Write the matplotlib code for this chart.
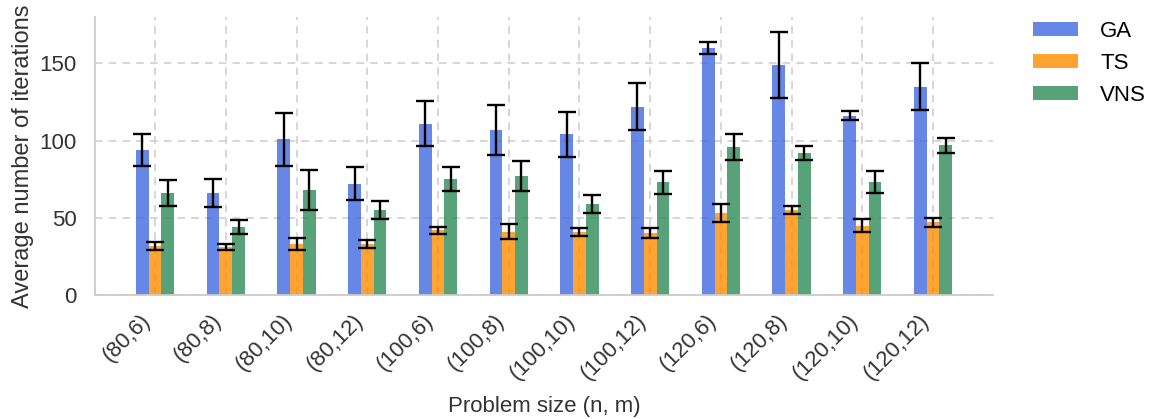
import matplotlib
matplotlib.use("Agg")
import matplotlib.pyplot as plt
import numpy as np

categories = ["(80,6)", "(80,8)", "(80,10)", "(80,12)", "(100,6)", "(100,8)",
              "(100,10)", "(100,12)", "(120,6)", "(120,8)", "(120,10)", "(120,12)"]
ga_mean = [94, 66, 101, 72, 111, 107, 104, 122, 160, 149, 116, 135]
ga_err = [10.4, 9, 17.2, 10.7, 14.4, 16.2, 14.7, 15.4, 3.8, 21.3, 2.9, 15.4]
ts_mean = [32, 31, 33, 33, 42, 41, 41, 40, 53, 55, 45, 47]
ts_err = [2.6, 2, 3.6, 2.5, 2.3, 4.7, 2.6, 3.2, 5.9, 2.8, 4.2, 3.2]
vns_mean = [66, 44, 68, 55, 75, 77, 59, 73, 96, 92, 73, 97]
vns_err = [8.3, 4.3, 12.9, 5.7, 7.9, 9.6, 5.8, 7.6, 8.3, 4.3, 7.1, 4.7]

plt.rcParams['font.family'] = ['Liberation Sans', 'DejaVu Sans']

fig = plt.figure(figsize=(11.5, 4.19), dpi=100)
ax = fig.add_axes([0.0826, 0.296, 0.781, 0.663])

x = np.arange(len(categories))
w = 0.18
colors = ["royalblue", "darkorange", "seagreen"]
series = [("GA", ga_mean, ga_err), ("TS", ts_mean, ts_err), ("VNS", vns_mean, vns_err)]
for i, (name, m, e) in enumerate(series):
    ax.bar(x + (i - 1) * w, m, w, color=colors[i], alpha=0.8, label=name, zorder=2,
           yerr=e, capsize=6.5, error_kw=dict(elinewidth=1.7, capthick=1.7, ecolor="black", zorder=3))

ax.set_xticks(x)
ax.set_xticklabels(categories, rotation=45, ha="right", fontsize=16, color="#333333")
ax.set_xlim(-0.85, 11.85)
ax.set_ylim(0, 180)
ax.set_yticks([0, 50, 100, 150])
ax.tick_params(axis='y', labelsize=16, length=0, pad=13, labelcolor="#333333")
ax.tick_params(axis='x', length=0, pad=11)
ax.grid(True, linestyle=(0, (5, 4)), color="#cccccc", linewidth=1.1, zorder=0)
ax.set_axisbelow(True)
for s in ["top", "right"]:
    ax.spines[s].set_visible(False)
for s in ["left", "bottom"]:
    ax.spines[s].set_color("#cccccc")
    ax.spines[s].set_linewidth(1.3)
ax.set_xlabel("Problem size (n, m)", fontsize=16, labelpad=9, color="#333333")
ax.set_ylabel("Average number of iterations", fontsize=17, labelpad=4, color="#333333")
ax.legend(loc="upper left", bbox_to_anchor=(1.035, 1.02), borderaxespad=0, frameon=False, fontsize=16,
          handlelength=2.0, handleheight=0.6, labelspacing=0.5, handletextpad=1.0)

fig.savefig("out.png", dpi=100)
